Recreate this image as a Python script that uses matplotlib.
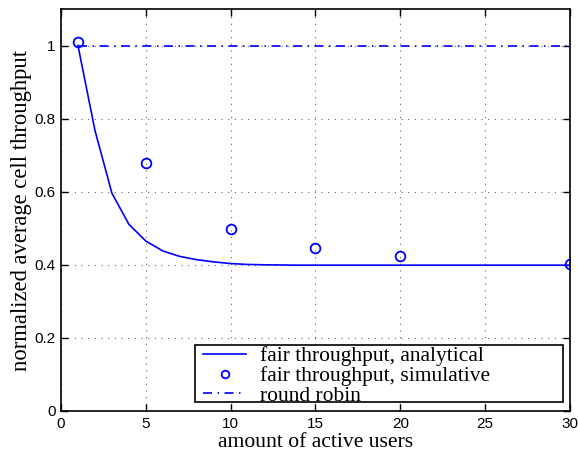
import matplotlib
matplotlib.use("Agg")
import matplotlib.pyplot as plt
from matplotlib.patches import Rectangle

# Analytical fair-throughput curve
users_analytical = [1, 2, 3, 4, 5, 6, 7, 8, 9, 10, 11, 12, 14, 16, 18, 20, 25, 30]
thr_analytical = [1.0, 0.768, 0.596, 0.511, 0.465, 0.438, 0.423, 0.414, 0.408,
                  0.4035, 0.401, 0.4, 0.399, 0.399, 0.399, 0.399, 0.399, 0.399]

# Simulated fair-throughput points
users_sim = [1, 5, 10, 15, 20, 30]
thr_sim = [1.009, 0.678, 0.497, 0.445, 0.425, 0.403]

# Round robin reference
users_rr = [1, 30]
thr_rr = [1.0, 1.0]

xticks = [0, 5, 10, 15, 20, 25, 30]
yticks = [0, 0.2, 0.4, 0.6, 0.8, 1]
ytick_labels = ["0", "0.2", "0.4", "0.6", "0.8", "1"]

W, H = 578, 454
fig = plt.figure(figsize=(W / 100, H / 100), dpi=100)
ax_l, ax_b, ax_w, ax_h = 61, 43, 509, 402
ax = fig.add_axes([ax_l / W, ax_b / H, ax_w / W, ax_h / H])

blue = "#0000ff"
ax.plot(users_analytical, thr_analytical, color=blue, lw=1.2,
        label="fair throughput, analytical")
ax.plot(users_sim, thr_sim, linestyle="none", marker="o", markersize=7,
        markerfacecolor="none", markeredgecolor=blue, markeredgewidth=1.3,
        label="fair throughput, simulative")
ax.plot(users_rr, thr_rr, color=blue, lw=1.2,
        linestyle=(0, (5.4, 3.3, 0.9, 3.3)), label="round robin")

ax.set_xlim(0, 30)
ax.set_ylim(0, 1.1)
ax.set_xticks(xticks)
ax.set_yticks(yticks)
ax.set_yticklabels(ytick_labels)

ax.grid(True, linestyle=(0, (1, 5)), color="#666666", linewidth=0.8)
ax.tick_params(direction="in", top=True, right=True, length=5, width=1,
               labelsize=11, pad=4)
for lab in ax.get_xticklabels() + ax.get_yticklabels():
    lab.set_fontfamily("Liberation Sans")
for sp in ax.spines.values():
    sp.set_linewidth(1.2)

ax.set_xlabel("amount of active users", family="Liberation Serif", fontsize=15.6,
              labelpad=2)
ax.set_ylabel("normalized average cell throughput", family="Liberation Serif",
              fontsize=16.3, labelpad=2)

# Wide legend box (MATLAB style) drawn as a separate frame
frame_x0, frame_x1 = 195, 563          # figure pixels
frame_top, frame_bot = 345, 402        # pixels from top of figure
fx0 = (frame_x0 - ax_l) / ax_w
fw = (frame_x1 - frame_x0) / ax_w
fy0 = (H - frame_bot - ax_b) / ax_h
fh = (frame_bot - frame_top) / ax_h
ax.add_patch(Rectangle((fx0, fy0), fw, fh, transform=ax.transAxes,
                       facecolor="white", edgecolor="black", linewidth=1.2,
                       zorder=5, clip_on=False))

leg = ax.legend(loc="center left",
                bbox_to_anchor=((203 - ax_l) / ax_w, (H - 376 - ax_b) / ax_h),
                borderaxespad=0, frameon=False,
                prop={"family": "Liberation Serif", "size": 15.5},
                labelspacing=-0.02, borderpad=0, handlelength=2.0,
                handletextpad=0.65)
leg.set_zorder(6)
leg.legend_handles[1].set_markersize(5.5)

fig.savefig("out.png", dpi=100)
